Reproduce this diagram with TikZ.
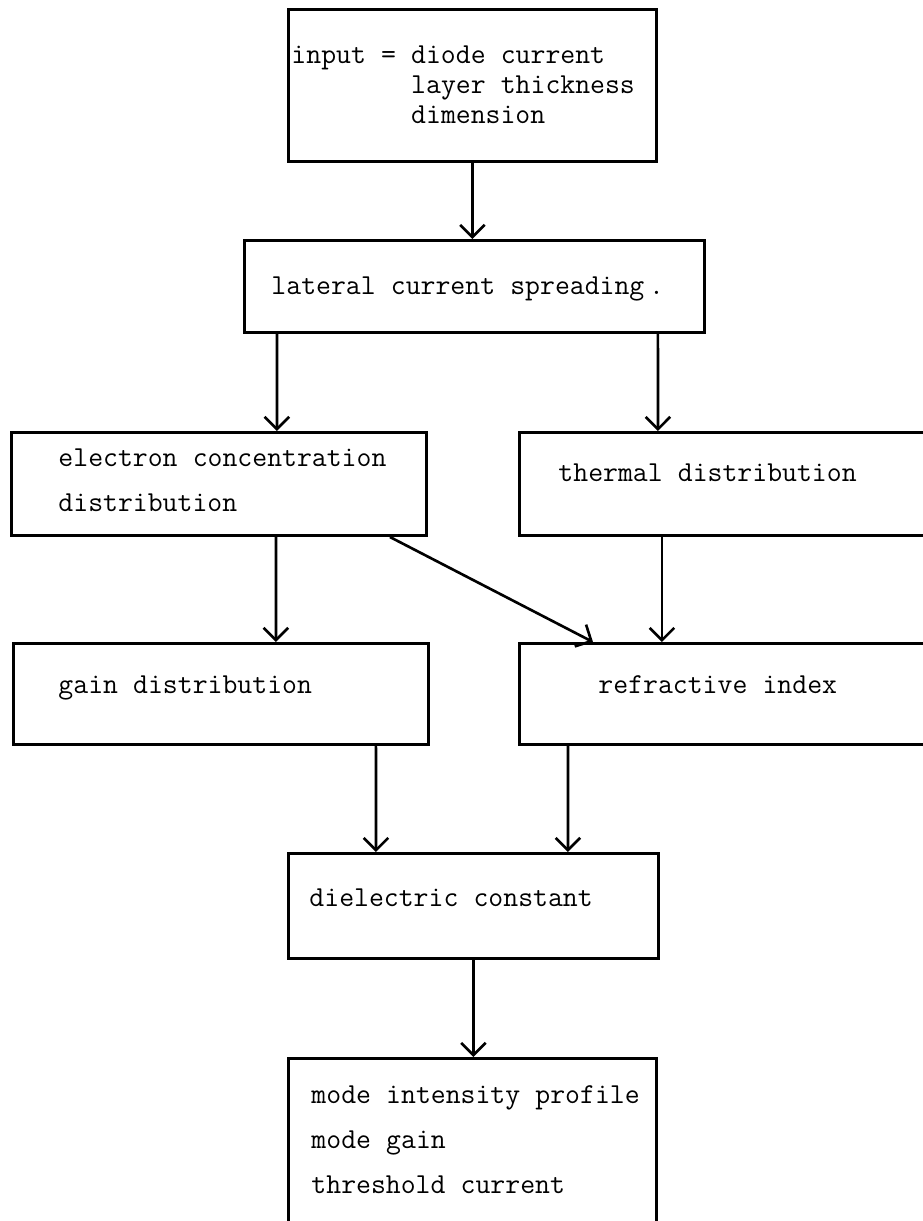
\documentclass[tikz,border=0pt]{standalone}
\usepackage{fontspec}
\usetikzlibrary{arrows.meta}
\newcommand\boxfont[1]{\ttfamily\fontsize{16.46}{#1}\selectfont\fontdimen2\font=0.525em\relax}

\begin{document}
\begin{tikzpicture}[x=0.02cm,y=-0.02cm,
  block/.style={draw,line width=1.7pt,anchor=north west,inner ysep=0pt,
    font=\boxfont{25.6},execute at begin node={\spaceskip 0.525em\relax}},
  flow/.style={line width=1.5pt,-{Straight Barb[length=7pt,width=14pt]}}]
\useasboundingbox (0,0) rectangle (923,1221);
\clip (0,0) rectangle (923,1221);
\node [block,text width=7.24cm,inner xsep=0.06cm,text height=1.08cm,text depth=1.96cm,
  font=\boxfont{17}] (inp) at (287,8)
  {input = diode current\\\phantom{input = }layer thickness\\\phantom{input = }dimension};
\node [block,text width=8.12cm,inner xsep=0.54cm,text height=1.08cm,text depth=0.76cm] (lat) at (243,239)
  {lateral current spreading\,.};
\node [block,text width=6.42cm,inner xsep=0.94cm,text height=0.68cm,text depth=1.38cm] (elec) at (10,431)
  {electron~concentration\\distribution};
\node [block,text width=6.78cm,inner xsep=0.78cm,text height=0.98cm,text depth=1.08cm] (therm) at (518,431)
  {thermal distribution};
\node [block,text width=6.5cm,inner xsep=0.9cm,text height=1.0cm,text depth=1.02cm] (gain) at (12,642)
  {gain distribution};
\node [block,text width=5.18cm,inner xsep=1.58cm,text height=1.0cm,text depth=1.02cm] (refr) at (518,642)
  {refractive index};
\node [block,text width=6.56cm,inner xsep=0.42cm,text height=1.06cm,text depth=1.04cm] (diel) at (287,852)
  {dielectric constant};
\node [block,text width=6.44cm,inner xsep=0.46cm,text height=0.9cm,text depth=2.38cm] (mode) at (287,1057)
  {mode~intensity~profile\\mode gain\\threshold current};

\draw [flow] (inp.south) -- (inp.south |- lat.north);
\draw [flow] ([xshift=0.68cm]lat.south west) -- ([xshift=5.34cm]elec.north west);
\draw [flow] ([xshift=8.3cm]lat.south west) -- ([xshift=2.8cm]therm.north west);
\draw [flow] ([xshift=5.32cm]elec.south west) -- ([xshift=5.28cm]gain.north west);
\draw [flow] ([xshift=-0.76cm]elec.south east) -- ([xshift=1.5cm]refr.north west);
\draw [flow] ([xshift=2.88cm]therm.south west) -- ([xshift=2.88cm]refr.north west);
\draw [flow] ([xshift=7.28cm]gain.south west) -- ([xshift=1.78cm]diel.north west);
\draw [flow] ([xshift=1.0cm]refr.south west) -- ([xshift=5.62cm]diel.north west);
\draw [flow] (diel.south) -- (diel.south |- mode.north);
\end{tikzpicture}
\end{document}
